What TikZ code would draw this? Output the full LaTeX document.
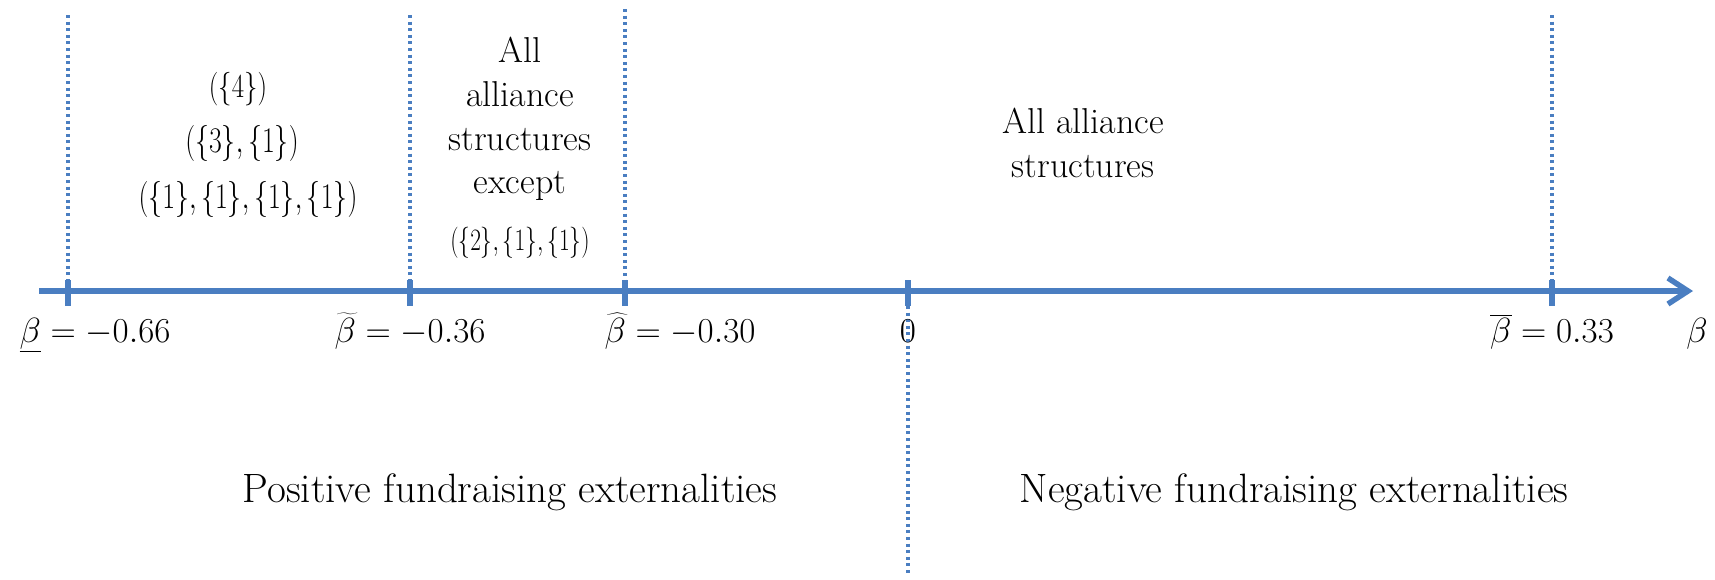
\documentclass[tikz,border=0pt]{standalone}
\usetikzlibrary{arrows.meta}
\definecolor{axblue}{RGB}{74,126,193}
\begin{document}
\begin{tikzpicture}[x=1pt,y=-1pt,
  axisline/.style={axblue,line width=5.5pt},
  tickline/.style={axblue,line width=6pt},
  guide/.style={axblue,line width=3.4pt,dash pattern=on 3pt off 3.6pt},
  txt/.style={inner sep=0pt,anchor=base,font=\fontsize{36}{44}\selectfont},
  lbl/.style={inner sep=0pt,anchor=base,font=\fontsize{24.88}{30}\selectfont,scale=1.407,transform shape},
  big/.style={inner sep=0pt,font=\fontsize{41}{48}\selectfont},
  set/.style={inner sep=0pt,font=\fontsize{24.88}{30}\selectfont,xscale=1.12,yscale=1.45,transform shape},
  smallset/.style={inner sep=0pt,font=\fontsize{24.88}{30}\selectfont,xscale=1.08,yscale=1.35,transform shape},
  midset/.style={inner sep=0pt,font=\fontsize{24.88}{30}\selectfont,xscale=0.94,yscale=1.25,transform shape}]
\useasboundingbox (0,0) rectangle (1715,579);
% axis
\coordinate (a0) at (39,291);
\coordinate (a1) at (1693,291);
\draw[axisline,-{Straight Barb[length=20pt,width=26pt,line width=5.5pt]}] (a0) -- (a1);
% ticks
\foreach \n/\x in {t1/68,t2/410,t3/625,t4/908,t5/1552}{
  \coordinate (\n u) at (\x,280);
  \coordinate (\n d) at (\x,306);
  \draw[tickline] (\n u) -- (\n d);
}
% guides
\coordinate (g1) at (68,15);
\coordinate (g2) at (410,15);
\coordinate (g3) at (625,9);
\coordinate (g5) at (1552,15);
\coordinate (g4) at (908,576);
\draw[guide] (g1) -- (t1u);
\draw[guide] (g2) -- (t2u);
\draw[guide] (g3) -- (t3u);
\draw[guide] (g5) -- (t5u);
\draw[guide] (t4d) -- (g4);
% region texts
\node[smallset] (s1) at (238,89) {$(\{4\})$};
\node[set] (s2) at (242,143) {$\bigl(\{3\},\{1\}\bigr)$};
\node[set] (s3) at (248,199) {$\bigl(\{1\},\{1\},\{1\},\{1\}\bigr)$};
\node[txt] (r2a) at (520,62) {All};
\node[txt] (r2b) at (520,106) {alliance};
\node[txt] (r2c) at (520,150) {structures};
\node[txt] (r2d) at (520,193) {except};
\node[midset] (s4) at (520,243) {$(\{2\},\{1\},\{1\})$};
\node[txt] (r3a) at (1083,133) {All alliance};
\node[txt] (r3b) at (1083,177) {structures};
% labels
\node[lbl] (l1) at (95,342) {$\underline{\beta}=-0.66$};
\node[lbl] (l2) at (410,342) {$\widetilde{\beta}=-0.36$};
\node[lbl] (l3) at (680,342) {$\widehat{\beta}=-0.30$};
\node[lbl] (l4) at (908,342) {$0$};
\node[lbl] (l5) at (1552,342) {$\overline{\beta}=0.33$};
\node[lbl] (l6) at (1697,342) {$\beta$};
% bottom texts
\node[big] (p) at (510,492) {Positive fundraising externalities};
\node[big] (n) at (1294,492) {Negative fundraising externalities};
\end{tikzpicture}
\end{document}
